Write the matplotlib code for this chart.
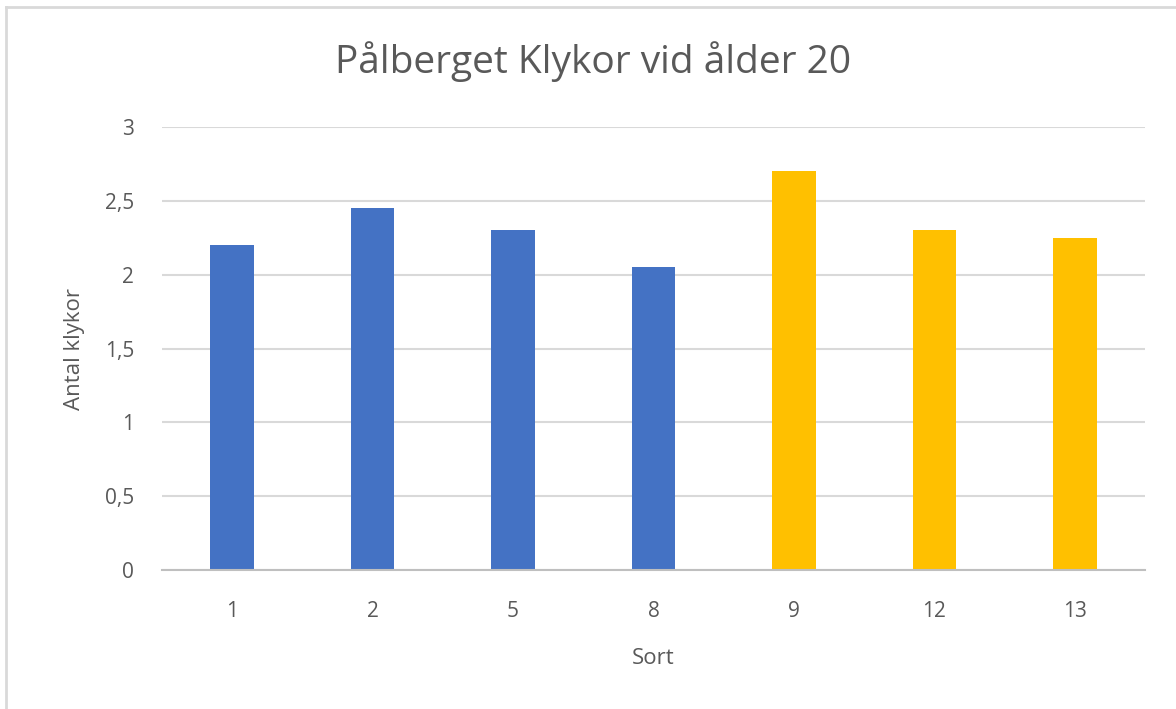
import matplotlib.pyplot as plt
from matplotlib.lines import Line2D

# Data
sorts = ['1', '2', '5', '8', '9', '12', '13']
klykor = [2.2, 2.45, 2.3, 2.05, 2.7, 2.3, 2.25]
groups = ['a', 'a', 'a', 'a', 'b', 'b', 'b']
group_colors = {'a': '#4472C4', 'b': '#FFC000'}

y_ticks = [0, 0.5, 1, 1.5, 2, 2.5, 3]
y_tick_labels = ['0', '0,5', '1', '1,5', '2', '2,5', '3']

plt.rcParams['font.family'] = ['Open Sans', 'DejaVu Sans']
text_color = '#595959'

fig = plt.figure(figsize=(11.76, 7.09), dpi=100)
ax = fig.add_axes([162 / 1176, 1 - 570 / 709, (1145 - 162) / 1176, (570 - 127) / 709])

colors = [group_colors[g] for g in groups]
ax.bar(range(len(sorts)), klykor, width=0.31, color=colors, zorder=3)

ax.set_xlim(-0.5, len(sorts) - 0.5)
ax.set_ylim(0, 3)
ax.set_yticks(y_ticks)
ax.set_yticklabels(y_tick_labels)
ax.set_xticks(range(len(sorts)))
ax.set_xticklabels(sorts)
ax.tick_params(length=0, labelsize=15, colors=text_color)
ax.tick_params(axis='y', pad=20)
ax.tick_params(axis='x', pad=22)

ax.grid(axis='y', color='#d9d9d9', linewidth=1.5, zorder=0)
for side in ['top', 'right', 'left']:
    ax.spines[side].set_visible(False)
ax.spines['bottom'].set_color('#bfbfbf')
ax.spines['bottom'].set_linewidth(1.5)
ax.spines['bottom'].set_zorder(4)

ax.set_xlabel('Sort', fontsize=16, color=text_color, labelpad=19)
ax.set_ylabel('Antal klykor', fontsize=16, color=text_color, labelpad=14)

fig.text(593 / 1176, 1 - 62 / 709, 'Pålberget Klykor vid ålder 20',
         fontsize=28, color=text_color, ha='center', va='center')

# chart border (only top and left edges visible)
fig.add_artist(Line2D([6 / 1176, 6 / 1176], [0, 1 - 7 / 709], color='#d9d9d9', lw=2))
fig.add_artist(Line2D([6 / 1176, 1], [1 - 7 / 709, 1 - 7 / 709], color='#d9d9d9', lw=2))

fig.savefig('out.png', dpi=100)
